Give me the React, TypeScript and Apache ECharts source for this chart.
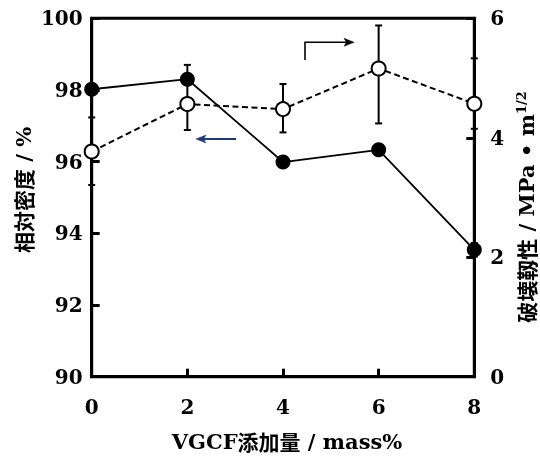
import React, { useEffect, useRef } from "react";
import * as echarts from "echarts";

// VGCF addition (mass%)
const vgcf = [0, 2, 4, 6, 8];
// Relative density (%) — filled circles, left axis
const density = [98.02, 98.3, 95.99, 96.33, 93.54];
// Density error bar (only visible at 8 mass%)
const densityErrX = [8];
const densityErrLow = [93.35];
const densityErrHigh = [93.73];
// Fracture toughness (MPa·m^1/2) — open circles, right axis
const toughness = [3.77, 4.565, 4.48, 5.16, 4.57];
const toughLow = [3.21, 4.13, 4.09, 4.24, 4.15];
const toughHigh = [4.34, 5.22, 4.9, 5.88, 5.33];

const leftTicks = { min: 90, max: 100, interval: 2 };
const rightTicks = { min: 0, max: 6, interval: 2 };
const xTicks = { min: 0, max: 8, interval: 2 };

const LAT = "DejaVu Serif";
const CJK = "Noto Sans CJK JP";

const richStyles = {
  c: { fontFamily: CJK, fontWeight: "bold", fontSize: 21, color: "#000", lineHeight: 23 },
  l: { fontFamily: LAT, fontWeight: "bold", fontSize: 21, color: "#000", lineHeight: 23 },
  sup: { fontFamily: LAT, fontWeight: "bold", fontSize: 13, color: "#000", verticalAlign: "top", lineHeight: 23, padding: [0, 0, 10, 0] },
};

function errRender(params: any, api: any) {
  const x = api.value(0);
  const lo = api.value(1);
  const hi = api.value(2);
  const p1 = api.coord([x, lo]);
  const p2 = api.coord([x, hi]);
  const hw = 3.5;
  const st = { stroke: "#000", lineWidth: 2 };
  return {
    type: "group",
    children: [
      { type: "line", shape: { x1: p1[0], y1: p1[1], x2: p2[0], y2: p2[1] }, style: st },
      { type: "line", shape: { x1: p1[0] - hw, y1: p1[1], x2: p1[0] + hw, y2: p1[1] }, style: st },
      { type: "line", shape: { x1: p2[0] - hw, y1: p2[1], x2: p2[0] + hw, y2: p2[1] }, style: st },
    ],
  };
}

export default function App() {
  const ref = useRef<HTMLDivElement>(null);
  useEffect(() => {
    if (!ref.current) return;
    const chart = echarts.init(ref.current, null, { renderer: "svg" });
    const axisFont = { fontFamily: LAT, fontWeight: "bold", fontSize: 20, color: "#000" };
    const option: any = {
      animation: false,
      textStyle: { fontFamily: LAT },
      grid: {
        left: 91.7,
        right: 65.7,
        top: 18.3,
        bottom: 86.3,
        show: true,
        borderColor: "#000",
        borderWidth: 3,
      },
      xAxis: {
        type: "value",
        ...xTicks,
        axisLine: { show: true, lineStyle: { color: "#000", width: 3 } },
        axisTick: { show: true, inside: true, length: 8, lineStyle: { color: "#000", width: 3 } },
        axisLabel: { ...axisFont, margin: 20 },
        splitLine: { show: false },
      },
      yAxis: [
        {
          type: "value",
          position: "left",
          ...leftTicks,
          axisLine: { show: true, lineStyle: { color: "#000", width: 3 } },
          axisTick: { show: true, inside: true, length: 8, lineStyle: { color: "#000", width: 3 } },
          axisLabel: { ...axisFont, margin: 9 },
          splitLine: { show: false },
        },
        {
          type: "value",
          position: "right",
          ...rightTicks,
          axisLine: { show: true, lineStyle: { color: "#000", width: 3 } },
          axisTick: { show: true, inside: true, length: 8, lineStyle: { color: "#000", width: 3 } },
          axisLabel: { ...axisFont, margin: 16 },
          splitLine: { show: false },
        },
      ],
      series: [
        {
          type: "custom",
          name: "toughErr",
          xAxisIndex: 0,
          yAxisIndex: 1,
          renderItem: errRender,
          encode: { x: 0, y: [1, 2] },
          data: vgcf.map((x, i) => [x, toughLow[i], toughHigh[i]]),
          z: 1,
          silent: true,
        },
        {
          type: "custom",
          name: "densErr",
          xAxisIndex: 0,
          yAxisIndex: 0,
          renderItem: errRender,
          encode: { x: 0, y: [1, 2] },
          data: densityErrX.map((x, i) => [x, densityErrLow[i], densityErrHigh[i]]),
          z: 1,
          silent: true,
        },
        {
          type: "line",
          name: "density",
          xAxisIndex: 0,
          yAxisIndex: 0,
          data: vgcf.map((x, i) => [x, density[i]]),
          symbol: "circle",
          symbolSize: 15,
          clip: false,
          lineStyle: { color: "#000", width: 1.8 },
          itemStyle: { color: "#000", borderColor: "#000", borderWidth: 0 },
          z: 3,
        },
        {
          type: "line",
          name: "toughness",
          xAxisIndex: 0,
          yAxisIndex: 1,
          data: vgcf.map((x, i) => [x, toughness[i]]),
          symbol: "circle",
          symbolSize: 14,
          clip: false,
          lineStyle: { color: "#000", width: 2, type: [6, 3.5] },
          itemStyle: { color: "#fff", borderColor: "#000", borderWidth: 2 },
          z: 4,
        },
      ],
      graphic: [
        {
          type: "text",
          x: 23,
          y: 190,
          rotation: Math.PI / 2,
          style: {
            text: "{c|相対密度}{l| / %}",
            rich: richStyles,
            textAlign: "center",
            textVerticalAlign: "middle",
          },
        },
        {
          type: "text",
          x: 526,
          y: 207,
          rotation: Math.PI / 2,
          style: {
            text: "{c|破壊靱性}{l| / MPa • m}{sup|1/2}",
            rich: richStyles,
            textAlign: "center",
            textVerticalAlign: "middle",
          },
        },
        {
          type: "text",
          x: 287,
          y: 441,
          style: {
            text: "{l|VGCF}{c|添加量}{l| / mass%}",
            rich: richStyles,
            textAlign: "center",
            textVerticalAlign: "middle",
          },
        },
        {
          type: "line",
          shape: { x1: 236, y1: 139, x2: 200, y2: 139 },
          style: { stroke: "#1b3a78", lineWidth: 2 },
        },
        {
          type: "polygon",
          shape: { points: [[196, 139], [206, 135], [203.5, 139], [206, 143]] },
          style: { fill: "#1b3a78", stroke: "#1b3a78", lineWidth: 0.5 },
        },
        {
          type: "polyline",
          shape: { points: [[305, 60], [305, 42.3], [349, 42.3]] },
          style: { stroke: "#000", lineWidth: 1.6, fill: null },
        },
        {
          type: "polygon",
          shape: { points: [[354, 42.3], [344, 38.3], [346.5, 42.3], [344, 46.3]] },
          style: { fill: "#000", stroke: "#000", lineWidth: 0.5 },
        },
      ],
    };
    chart.setOption(option);
    return () => chart.dispose();
  }, []);
  return <div ref={ref} style={{ position: "fixed", left: 0, top: 0, width: 540, height: 463 }} />;
}
